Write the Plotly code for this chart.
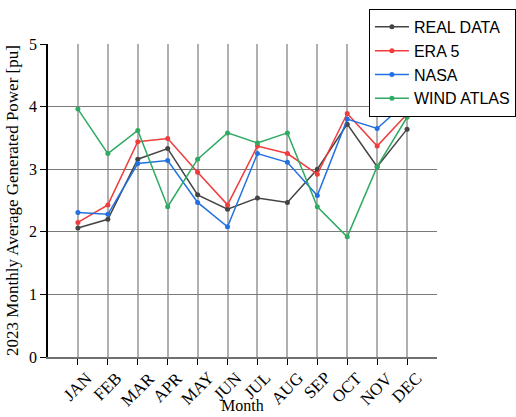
import plotly.graph_objects as go

months = ["JAN", "FEB", "MAR", "APR", "MAY", "JUN", "JUL", "AUG", "SEP", "OCT", "NOV", "DEC"]
real_data = [2.06, 2.20, 3.16, 3.33, 2.59, 2.36, 2.54, 2.47, 3.00, 3.72, 3.04, 3.64]
era5 = [2.15, 2.43, 3.44, 3.49, 2.95, 2.43, 3.37, 3.25, 2.92, 3.89, 3.37, 3.88]
nasa = [2.31, 2.28, 3.09, 3.14, 2.47, 2.08, 3.25, 3.11, 2.58, 3.80, 3.65, 4.08]
wind_atlas = [3.96, 3.25, 3.62, 2.40, 3.16, 3.58, 3.42, 3.58, 2.40, 1.92, 3.04, 3.83]

series = [
    ("REAL DATA", real_data, "#444444"),
    ("ERA 5", era5, "#F03C3C"),
    ("NASA", nasa, "#2171E0"),
    ("WIND ATLAS", wind_atlas, "#2EAA62"),
]

fig = go.Figure()
for name, vals, color in series:
    fig.add_trace(go.Scatter(
        x=months, y=vals, name=name, mode="lines+markers",
        line=dict(color=color, width=1.5),
        marker=dict(color=color, size=5),
    ))

serif = "Liberation Serif, Times New Roman, serif"

# month labels, rotated 45 degrees and centred under each tick
for m in months:
    fig.add_annotation(
        x=m, y=0, xref="x", yref="y", text=m, showarrow=False,
        textangle=-45, xanchor="center", yanchor="top", yshift=-9,
        font=dict(family=serif, size=17, color="black"),
    )

# x-axis title below the rotated labels
fig.add_annotation(
    x=0.5, y=0, xref="paper", yref="paper", text="Month", showarrow=False,
    xanchor="center", yanchor="top", yshift=-39, borderpad=0,
    font=dict(family=serif, size=16, color="black"),
)

fig.update_layout(
    width=516, height=417,
    margin=dict(l=48, r=79, t=44, b=60, autoexpand=False),
    paper_bgcolor="white", plot_bgcolor="white",
    font=dict(family=serif, size=14, color="black"),
    showlegend=True,
    legend=dict(
        x=0.825, y=1.112, xanchor="left", yanchor="top",
        bordercolor="black", borderwidth=1, bgcolor="white",
        font=dict(family="Liberation Sans, Arial, sans-serif", size=16),
        tracegroupgap=0, itemwidth=34,
    ),
    xaxis=dict(
        type="category", categoryorder="array", categoryarray=months,
        range=[-1, 12], showticklabels=False, automargin=False,
        showgrid=True, gridcolor="#b0b0b0", gridwidth=2,
        showline=True, linecolor="#707070", linewidth=2,
        ticks="outside", ticklen=6, tickcolor="black", tickwidth=1,
        zeroline=False,
    ),
    yaxis=dict(
        range=[0, 5], dtick=1, automargin=False,
        showgrid=True, gridcolor="#7a7a7a", gridwidth=1,
        showline=True, linecolor="black", linewidth=1.5,
        ticks="outside", ticklen=6, tickcolor="black",
        title=dict(text="2023 Monthly Average Generated Power [pu]", standoff=6),
        tickfont=dict(family=serif, size=16),
        zeroline=False,
    ),
)

fig.write_html("out.html")
